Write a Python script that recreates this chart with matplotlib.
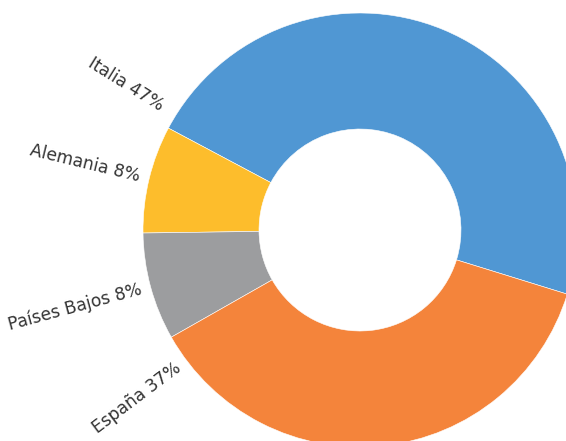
import numpy as np
import matplotlib.pyplot as plt

paises = ['Italia', 'Alemania', 'Países Bajos', 'España']
porcentajes = [47, 8, 8, 37]
colores = ['#5097D3', '#FDBD2C', '#9C9D9F', '#F4843B']

W, H = 566, 441
cx, cy = 360, H - 230
R = 217
inner = 101
start = -17.2

fig = plt.figure(figsize=(W / 100, H / 100), dpi=100)
ax = fig.add_axes([0, 0, 1, 1])

wedges, _ = ax.pie(porcentajes, colors=colores, startangle=start, counterclock=True,
                   center=(cx, cy), radius=R,
                   wedgeprops=dict(width=R - inner, edgecolor='white', linewidth=0.4))

# labels on the left side, radial text, clamped to a range of angles
for w, nombre, p in zip(wedges, paises, porcentajes):
    mid = (w.theta1 + w.theta2) / 2
    ang = min(max(mid, 148), 217)
    r = 1.045 * R
    if mid < 148:
        r += 6  # top label sits a bit further out
    rad = np.deg2rad(ang)
    x = cx + r * np.cos(rad)
    y = cy + r * np.sin(rad)
    ax.text(x, y, f'{nombre} {p}%', rotation=ang - 180, rotation_mode='anchor',
            ha='right', va='center', fontsize=12.3, color='#333333',
            family='DejaVu Sans')

ax.set_xlim(0, W)
ax.set_ylim(0, H)
ax.set_aspect('auto')
ax.axis('off')

fig.savefig('out.png', dpi=100)
